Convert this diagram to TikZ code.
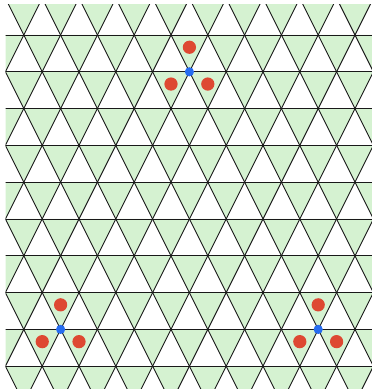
\documentclass[tikz,border=0pt]{standalone}
\usetikzlibrary{positioning}

\definecolor{downgreen}{RGB}{213,242,209}
\definecolor{siteblue}{RGB}{38,108,240}
\definecolor{spinred}{RGB}{222,72,50}

\begin{document}
\begin{tikzpicture}[
		x=1cm, y=1cm,
		down/.style={fill=downgreen},
		bond/.style={line width=0.7pt, black!90},
		site/.style={circle, fill=siteblue, inner sep=0pt, minimum size=0.25cm},
		spin/.style={circle, fill=spinred, inner sep=0pt, minimum size=0.36cm},
	]
	\useasboundingbox (0,0) rectangle (10.109,-10.571);

	% -- lattice --
	\begin{scope}
		\clip (0.15,-0.12) rectangle (10.109,-10.571);
		\foreach \k in {-1,...,10} {
			\pgfmathsetmacro{\y}{-0.951-\k}
			\pgfmathsetmacro{\off}{0.647-0.5*mod(\k+10,2)}
			\foreach \m in {-1,...,10} {
				\fill[down] (\off+\m,\y) -- (\off+\m+1,\y) -- (\off+\m+0.5,\y-1) -- cycle;
			}
			\draw[bond] (-0.5,\y) -- (10.6,\y);
		}
		\foreach \m in {-7,...,17} {
			\draw[bond] (0.147+\m,0.049) -- ++(5.5,-11);
			\draw[bond] (0.147+\m,0.049) -- ++(-5.5,-11);
		}
	\end{scope}

	% -- sites with their three spins --
	\foreach \x/\y/\n in {5.147/-1.951/a, 1.647/-8.951/b, 8.647/-8.951/c} {
		\node[spin] (\n1) at (\x,\y+0.667) {};
		\node[spin] (\n2) at (\x-0.5,\y-0.333) {};
		\node[spin] (\n3) at (\x+0.5,\y-0.333) {};
		\node[site] (\n) at (\x,\y) {};
	}
\end{tikzpicture}
\end{document}
